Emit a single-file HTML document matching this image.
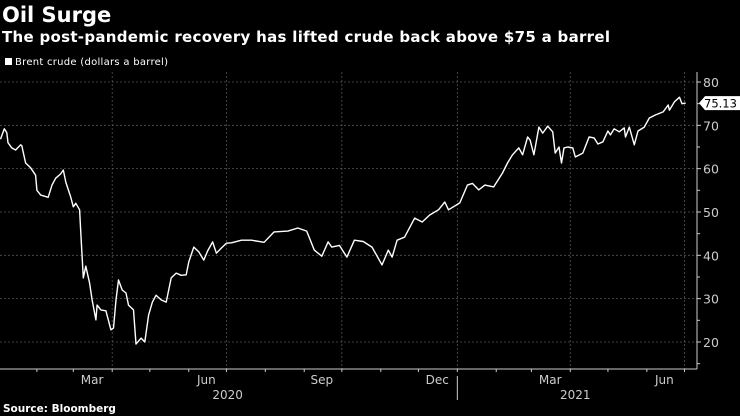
<!DOCTYPE html>
<html><head><meta charset="utf-8"><style>
body{margin:0;background:#000;width:740px;height:416px;overflow:hidden;font-family:"DejaVu Sans","Liberation Sans",sans-serif;}
svg{display:block}
</style></head><body>
<svg width="740" height="416">
<text x="2" y="22" fill="#fff" font-size="21" font-weight="bold">Oil Surge</text>
<text x="2" y="42" fill="#fff" font-size="15" font-weight="bold" textLength="608">The post-pandemic recovery has lifted crude back above $75 a barrel</text>
<rect x="5" y="58" width="7" height="7" fill="#fff"/>
<text x="15" y="65" fill="#fff" font-size="10" textLength="153">Brent crude (dollars a barrel)</text>
<g id="grid"></g><g id="axes"></g><g id="series"></g>
<text x="3" y="412" fill="#fff" font-size="10.5" font-weight="bold">Source: Bloomberg</text>
</svg>
<script>
const days=[2,5,7,8,11,14,18,19,22,26,30,31,34,40,43,46,50,52,54,58,60,62,65,66,68,70,73,75,78,79,82,86,90,92,94,96,99,102,104,108,110,114,117,120,123,126,130,134,138,142,146,150,152,156,160,164,167,171,174,178,182,186,194,202,212,220,231,239,246,252,258,263,266,272,278,284,291,298,306,311,314,318,324,332,338,344,351,356,359,368,374,378,383,388,395,402,406,410,415,418,422,424,427,431,434,438,442,444,447,449,451,454,458,460,466,471,475,478,482,486,488,491,495,499,500,503,507,510,515,519,524,530,534,535,539,543,545,548];
const prices=[66.8,69.2,68.3,66,64.8,64.3,65.5,65.3,61.3,60.2,58.5,55,53.9,53.4,56.2,57.8,58.8,59.7,56.9,53.4,51.2,52,50.5,45.2,34.8,37.5,33.6,29.7,25.1,28.5,27.4,27.2,22.8,23.2,29.7,34.3,32,31.3,28.5,27.4,19.5,20.9,20,26.2,29.2,30.8,29.7,29.2,34.8,35.9,35.4,35.5,38.5,41.9,40.8,38.9,41,43.1,40.5,41.7,42.8,42.9,43.5,43.5,43,45.4,45.6,46.3,45.6,41.2,39.8,43.1,41.9,42.3,39.6,43.5,43.2,41.9,37.8,41.2,39.6,43.5,44.2,48.6,47.7,49.3,50.5,52.3,50.5,52.1,56.2,56.6,55.1,56.2,55.8,59,61.3,63.2,64.8,63.2,67.3,66.6,63.2,69.6,68.2,69.8,68.5,63.6,65,61.3,64.8,65,64.8,62.7,63.6,67.3,67.1,65.7,66.2,68.7,67.8,69.2,68.5,69.4,67.3,69.6,65.5,68.7,69.6,71.7,72.4,73.1,74.7,73.5,75.4,76.5,75,75.13];
const yTicks=[20,30,40,50,60,70,80];
const monthStarts=[0,31,60,91,121,152,182,213,244,274,305,335,366,397,425,456,486,517,547];
const gridDays=[91,182,274,366,456,547];
const monthLabels=["Mar","Jun","Sep","Dec","Mar","Jun"];
const monthLabelDays=[75,166,258,350,440,531];
const yearLabels=["2020","2021"];
const yearLabelDays=[183,460];
const lastValue="75.13";
const NS="http://www.w3.org/2000/svg";
const x=d=>d*1.255-2, y=v=>82+(80-v)*4.333;
function mk(t,a,p){const e=document.createElementNS(NS,t);for(const k in a)e.setAttribute(k,a[k]);p.appendChild(e);return e;}
const G=document.getElementById('grid'),A=document.getElementById('axes'),S=document.getElementById('series');
yTicks.forEach(v=>{const l=mk('line',{x1:0,x2:697,y1:y(v),y2:y(v),stroke:'#555','stroke-dasharray':'2,2','stroke-width':0.8},G);


const t=mk('text',{x:703,y:y(v)+5,fill:'#ccc','font-size':12.5},A);t.textContent=v;


mk('line',{x1:697,x2:701,y1:y(v),y2:y(v),stroke:'#ccc'},A);});
for(let v=15;v<80;v+=10){mk('line',{x1:697,x2:700,y1:y(v),y2:y(v),stroke:'#ccc'},A);}
gridDays.forEach(d=>{const l=mk('line',{x1:x(d),x2:x(d),y1:72,y2:369,stroke:'#555','stroke-dasharray':'2,2','stroke-width':0.8},G);

});
const ax=mk('line',{x1:0,x2:697,y1:369,y2:369,stroke:'#ccc'},A);


const ay=mk('line',{x1:697,x2:697,y1:72,y2:369,stroke:'#ccc'},A);


monthStarts.forEach(d=>{if(x(d)>0&&x(d)<697)mk('line',{x1:x(d),x2:x(d),y1:369,y2:372,stroke:'#ccc'},A);});
mk('line',{x1:x(366),x2:x(366),y1:376,y2:400,stroke:'#ccc'},A);
monthLabels.forEach((m,i)=>{const t=mk('text',{x:x(monthLabelDays[i]),y:384,fill:'#ccc','font-size':12,'text-anchor':'middle'},A);t.textContent=m;

});
yearLabels.forEach((m,i)=>{const t=mk('text',{x:x(yearLabelDays[i]),y:399,fill:'#ccc','font-size':12,'text-anchor':'middle'},A);t.textContent=m;

});
const pts=days.map((d,i)=>x(d).toFixed(1)+','+y(prices[i]).toFixed(1)).join(' ');
const pl=mk('polyline',{points:pts,fill:'none',stroke:'#fff','stroke-width':1.4,'stroke-linejoin':'round'},S);


const ly=y(prices[prices.length-1]);
const tag=mk('path',{d:`M699,${ly} L705,${ly-7} L740,${ly-7} L740,${ly+7} L705,${ly+7} Z`,fill:'#fff'},S);


const tt=mk('text',{x:704,y:ly+4.5,fill:'#000','font-size':11.5},S);tt.textContent=lastValue;


</script>
</body></html>
